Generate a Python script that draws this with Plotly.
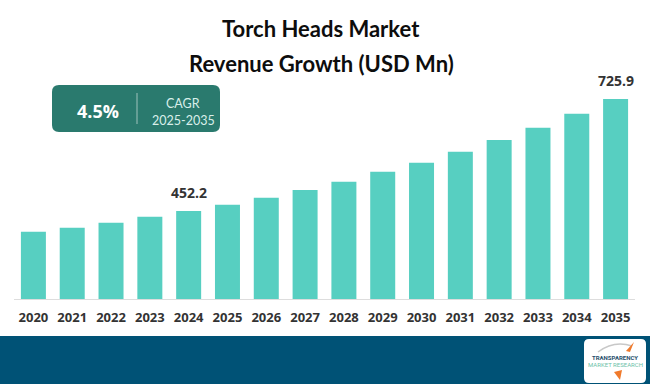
import plotly.graph_objects as go

years = ["2020", "2021", "2022", "2023", "2024", "2025", "2026", "2027",
         "2028", "2029", "2030", "2031", "2032", "2033", "2034", "2035"]
revenue = [401.6, 411.4, 423.6, 438.2, 452.2, 467.6, 484.7, 503.5,
           523.8, 548.2, 570.2, 597.1, 625.7, 655.8, 690.0, 725.9]
labelled_years = ["2024", "2035"]
title_lines = ["Torch Heads Market", "Revenue Growth (USD Mn)"]
cagr_value = "4.5%"
cagr_label = "CAGR"
cagr_period = "2025-2035"

W, H = 650, 384
ML, MR, MT, MB = 14, 15, 80, 85
PW = W - ML - MR
PH = H - MT - MB
Y0, Y1 = 237.1, 772.3


def px(x):
    return (x - ML) / PW


def py(y):
    return (H - MB - y) / PH


def rounded_rect(x0, y0, x1, y1, r):
    pts = [
        f"M {px(x0 + r)},{py(y0)}",
        f"L {px(x1 - r)},{py(y0)}",
        f"Q {px(x1)},{py(y0)} {px(x1)},{py(y0 + r)}",
        f"L {px(x1)},{py(y1 - r)}",
        f"Q {px(x1)},{py(y1)} {px(x1 - r)},{py(y1)}",
        f"L {px(x0 + r)},{py(y1)}",
        f"Q {px(x0)},{py(y1)} {px(x0)},{py(y1 - r)}",
        f"L {px(x0)},{py(y0 + r)}",
        f"Q {px(x0)},{py(y0)} {px(x0 + r)},{py(y0)}",
        "Z",
    ]
    return " ".join(pts)


fig = go.Figure()
fig.add_trace(go.Bar(
    x=years, y=revenue,
    marker=dict(color="#57cfc1", line=dict(width=0)),
    hoverinfo="x+y",
))

annotations = []
for i, (yr, v) in enumerate(zip(years, revenue)):
    if yr in labelled_years:
        annotations.append(dict(
            x=i, y=v, xref="x", yref="y", text=f"{v:.1f}",
            showarrow=False, yanchor="bottom", yshift=7,
            font=dict(family="Open Sans", size=14, color="#333333", weight="bold"),
        ))

annotations.append(dict(x=px(321), y=py(29), xref="paper", yref="paper",
                        text=f"<b>{title_lines[0]}</b>", showarrow=False,
                        xanchor="center", yanchor="middle",
                        font=dict(family="Lato", size=22, color="#0d0d0d")))
annotations.append(dict(x=px(321), y=py(63), xref="paper", yref="paper",
                        text=f"<b>{title_lines[1]}</b>", showarrow=False,
                        xanchor="center", yanchor="middle",
                        font=dict(family="Lato", size=22, color="#0d0d0d")))

annotations.append(dict(x=px(98), y=py(111), xref="paper", yref="paper",
                        text=f"<b>{cagr_value}</b>", showarrow=False,
                        xanchor="center", yanchor="middle",
                        font=dict(family="Open Sans", size=18, color="#ffffff")))
annotations.append(dict(x=px(183), y=py(103), xref="paper", yref="paper",
                        text=cagr_label, showarrow=False,
                        xanchor="center", yanchor="middle",
                        font=dict(family="Lato", size=12.5, color="#d9efea")))
annotations.append(dict(x=px(183), y=py(120), xref="paper", yref="paper",
                        text=cagr_period, showarrow=False,
                        xanchor="center", yanchor="middle",
                        font=dict(family="Lato", size=12.5, color="#d9efea")))

annotations.append(dict(x=px(615), y=py(357), xref="paper", yref="paper",
                        text="<b>TRANSPARENCY</b>", showarrow=False,
                        xanchor="center", yanchor="middle",
                        font=dict(family="Roboto", size=6, color="#1f4e6b")))
annotations.append(dict(x=px(615), y=py(364), xref="paper", yref="paper",
                        text="MARKET RESEARCH", showarrow=False,
                        xanchor="center", yanchor="middle",
                        font=dict(family="Roboto", size=6, color="#6bbfa8")))

shapes = [
    dict(type="rect", xref="paper", yref="paper",
         x0=px(-2), x1=px(W + 2), y0=py(336), y1=py(H + 2),
         fillcolor="#005276", line=dict(width=0), layer="above"),
    dict(type="path", xref="paper", yref="paper",
         path=rounded_rect(584, 339, 646, 383, 5),
         fillcolor="#ffffff", line=dict(width=0), layer="above"),
    dict(type="path", xref="paper", yref="paper",
         path=f"M {px(598)},{py(352)} Q {px(614)},{py(340)} {px(632)},{py(346)}",
         line=dict(color="#c8c8c8", width=1.5), layer="above"),
    dict(type="path", xref="paper", yref="paper",
         path=f"M {px(626)},{py(351)} L {px(634)},{py(342)} L {px(630)},{py(352)} Z",
         fillcolor="#f07a2c", line=dict(width=0), layer="above"),
    dict(type="path", xref="paper", yref="paper",
         path=f"M {px(614)},{py(372)} L {px(620)},{py(380)} L {px(622)},{py(370)} Z",
         fillcolor="#f07a2c", line=dict(width=0), layer="above"),
    dict(type="path", xref="paper", yref="paper",
         path=rounded_rect(52, 85, 220, 132, 7),
         fillcolor="#2a7a6e", line=dict(width=0), layer="above"),
    dict(type="line", xref="paper", yref="paper",
         x0=px(137), x1=px(137), y0=py(93), y1=py(124),
         line=dict(color="rgba(255,255,255,0.55)", width=1), layer="above"),
]

fig.update_layout(
    width=W, height=H,
    margin=dict(l=ML, r=MR, t=MT, b=MB, autoexpand=False),
    paper_bgcolor="#ffffff", plot_bgcolor="#ffffff",
    bargap=0.356,
    showlegend=False,
    annotations=annotations,
    shapes=shapes,
    xaxis=dict(
        type="category", range=[-0.5, len(years) - 0.5], automargin=False,
        showline=True, linecolor="#dddddd", linewidth=1,
        showgrid=False, ticks="", zeroline=False, ticklabelstandoff=6,
        tickfont=dict(family="Open Sans", size=13, color="#333333", weight="bold"),
    ),
    yaxis=dict(range=[Y0, Y1], visible=False, showgrid=False, zeroline=False,
               automargin=False),
)

fig.write_html(
    "out.html",
    config={"displayModeBar": False},
    post_script="document.body.style.margin='0';document.body.style.overflow='hidden';",
)
